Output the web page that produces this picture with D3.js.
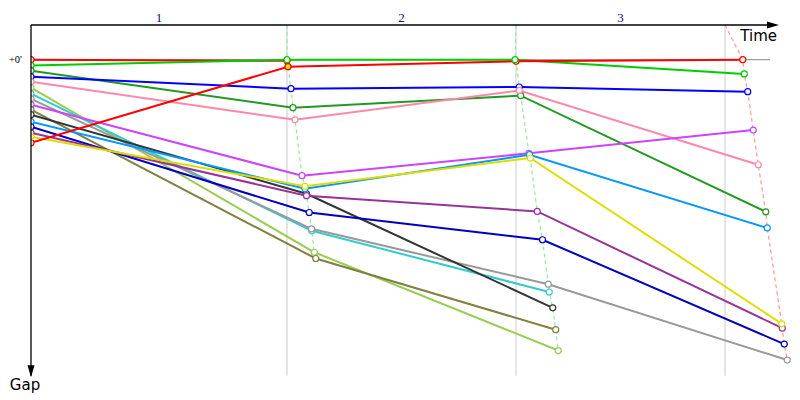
<!DOCTYPE html>
<html>
<head>
<meta charset="utf-8">
<script src="https://cdn.jsdelivr.net/npm/d3@7"></script>
<style>body{margin:0;background:#fff;}</style>
</head>
<body>
<div id="chart"></div>
<script>
// lap labels and the reference (leader pace) time at the end of each lap, in seconds
var lapLabels = ["1", "2", "3"];
var lapRefTimes = [102.4, 194.0, 277.6];

// one colour per car, grid order
var colors = ["#ff0000","#00cc00","#229922","#0000ff","#ff88aa","#99cc55","#33cccc","#999999",
              "#cc44ff","#808040","#333333","#0099ff","#0000bb","#993399","#dddd00","#ff0000"];

// cumulative time at start / end of lap 1, 2, 3 (s)
var cumTimes = [
    [0, 102.4],
    [0, 102.4, 193.6, 285.3],
    [0, 104.8, 195.9, 293.9],
    [0, 104.0, 195.3, 286.7],
    [0, 105.6, 195.3, 290.9],
    [0, 113.3, 210.9],
    [0, 112.3, 207.3],
    [0, 112.2, 206.9, 302.5],
    [0, 108.4, 199.2, 288.9],
    [0, 113.9, 209.9],
    [0, 110.2, 208.7],
    [0, 109.6, 199.4, 294.5],
    [0, 111.3, 204.6, 301.3],
    [0, 110.2, 202.5, 300.5],
    [0, 109.6, 199.7, 300.3],
    [0, 102.8, 194.0, 284.7]
];
// gap to the leader at the same points (s)
var gaps = [
    [0.00, 0.06],
    [0.33, 0.00, 0.00, 0.82],
    [0.63, 2.76, 2.07, 8.76],
    [0.98, 1.67, 1.57, 1.84],
    [1.27, 3.46, 1.77, 6.05],
    [1.61, 11.09, 16.75],
    [1.96, 9.85, 13.38],
    [2.25, 9.74, 12.93, 17.30],
    [2.59, 6.68, 5.39, 4.05],
    [2.88, 11.45, 15.55],
    [3.17, 7.72, 14.29],
    [3.57, 7.43, 5.47, 9.69],
    [3.86, 8.80, 10.37, 16.38],
    [4.21, 7.83, 8.74, 15.46],
    [4.44, 7.29, 5.66, 15.21],
    [4.78, 0.40, 0.09, 0.00]
];
// [car, lap] of the fastest lap marker
var fastestLap = [15, 1];

var width = 800, height = 400;
var x = d3.scaleLinear().domain([0, 300]).range([31, 781]);
var y = d3.scaleLinear().domain([-2, 18.2]).range([25, 375.7]);
var lineGenerator = d3.line().x(function(d){ return x(d[0]); }).y(function(d){ return y(d[1]); });

var svg = d3.select("#chart").append("svg")
    .attr("width", width)
    .attr("height", height);

svg.append("clipPath").attr("id", "plotClip")
  .append("rect").attr("x", x(0)).attr("y", 0).attr("width", width).attr("height", height);

var plot = svg.append("g").attr("clip-path", "url(#plotClip)");

var series = cumTimes.map(function(t, i){
    return { color: colors[i], idx: i, values: t.map(function(v, j){ return [v, gaps[i][j], j]; }) };
});

// zero gap line
plot.append("path")
    .attr("d", lineGenerator([[0, 0], [295.6, 0]]))
    .attr("stroke", "#888").attr("stroke-width", 1).attr("fill", "none");

// lap reference lines
plot.selectAll(".lapLine").data(lapRefTimes)
    .enter().append("path")
    .attr("class", "lapLine")
    .attr("d", function(d){ return lineGenerator([[d, -2], [d, 18.2]]); })
    .attr("stroke", "#cccccc").attr("stroke-width", 1).attr("fill", "none");

// dashed lines joining each lap's crossing points, coloured by the leader
lapRefTimes.forEach(function(ref, lap){
    var running = series.filter(function(s){ return s.values.length > lap + 1; });
    var pts = running.map(function(s){ return s.values[lap + 1]; });
    var leader = running.slice().sort(function(a, b){ return a.values[lap + 1][1] - b.values[lap + 1][1]; })[0];
    pts.sort(function(a, b){ return a[1] - b[1]; });
    plot.append("path")
        .attr("d", lineGenerator([[ref, -2]].concat(pts)))
        .attr("fill", "none")
        .attr("stroke", d3.interpolateRgb(leader.color, "#fff")(0.6))
        .attr("stroke-width", 1.2)
        .attr("stroke-dasharray", "4,3");
});

// car lines
plot.selectAll(".carLine").data(series)
    .enter().append("path")
    .attr("class", "carLine")
    .attr("d", function(d){ return lineGenerator(d.values); })
    .attr("fill", "none")
    .attr("stroke", function(d){ return d.color; })
    .attr("stroke-width", 2);

// markers (red cars first so the leader's marker stays on top)
var markerOrder = [0, 15].concat(d3.range(1, 15));
markerOrder.forEach(function(k){
    var s = series[k];
    plot.selectAll(null).data(s.values)
        .enter().append("circle")
        .attr("cx", function(d){ return x(d[0]); })
        .attr("cy", function(d){ return y(d[1]); })
        .attr("r", 3)
        .attr("fill", function(d){
            return (s.idx == fastestLap[0] && d[2] == fastestLap[1]) ? "#ffee00" : "#fff";
        })
        .attr("stroke", s.color)
        .attr("stroke-width", 1.2);
});

// axes
var axisG = svg.append("g");
axisG.append("path")
    .attr("d", lineGenerator([[0, -2], [298, -2]]))
    .attr("stroke", "#000").attr("stroke-width", 1.3).attr("fill", "none");
axisG.append("path")
    .attr("d", "M" + x(299.2) + "," + y(-2) + "L" + (x(299.2) - 12) + "," + (y(-2) - 3.5) + "L" + (x(299.2) - 12) + "," + (y(-2) + 3.5) + "Z")
    .attr("fill", "#000");
axisG.append("path")
    .attr("d", lineGenerator([[0, -2], [0, 18.2]]))
    .attr("stroke", "#000").attr("stroke-width", 1.3).attr("fill", "none");
axisG.append("path")
    .attr("d", "M" + x(0) + "," + (y(18.2) + 1.5) + "L" + (x(0) - 3.5) + "," + (y(18.2) - 10.5) + "L" + (x(0) + 3.5) + "," + (y(18.2) - 10.5) + "Z")
    .attr("fill", "#000");

// lap labels, centred between lap lines
var lapBounds = [0].concat(lapRefTimes);
axisG.selectAll(".lapLabel").data(lapLabels)
    .enter().append("text")
    .attr("class", "lapLabel")
    .attr("x", function(d, i){ return x((lapBounds[i] + lapBounds[i + 1]) / 2); })
    .attr("y", 22)
    .attr("text-anchor", "middle")
    .style("font-family", "'Liberation Serif', serif")
    .style("font-size", "13px")
    .style("fill", "#1a0a60")
    .text(function(d){ return d; });

axisG.append("text")
    .attr("x", 22).attr("y", y(0) + 3)
    .attr("text-anchor", "end")
    .style("font-family", "'Liberation Serif', serif")
    .style("font-size", "10.5px")
    .style("fill", "#000")
    .text("+0'");

axisG.append("text")
    .attr("x", 777).attr("y", 41)
    .attr("text-anchor", "end")
    .style("font-family", "'DejaVu Sans', sans-serif")
    .style("font-size", "15px")
    .style("fill", "#000")
    .text("Time");

axisG.append("text")
    .attr("x", 25).attr("y", 390)
    .attr("text-anchor", "middle")
    .style("font-family", "'DejaVu Sans', sans-serif")
    .style("font-size", "15px")
    .style("fill", "#000")
    .text("Gap");
</script>
</body>
</html>
